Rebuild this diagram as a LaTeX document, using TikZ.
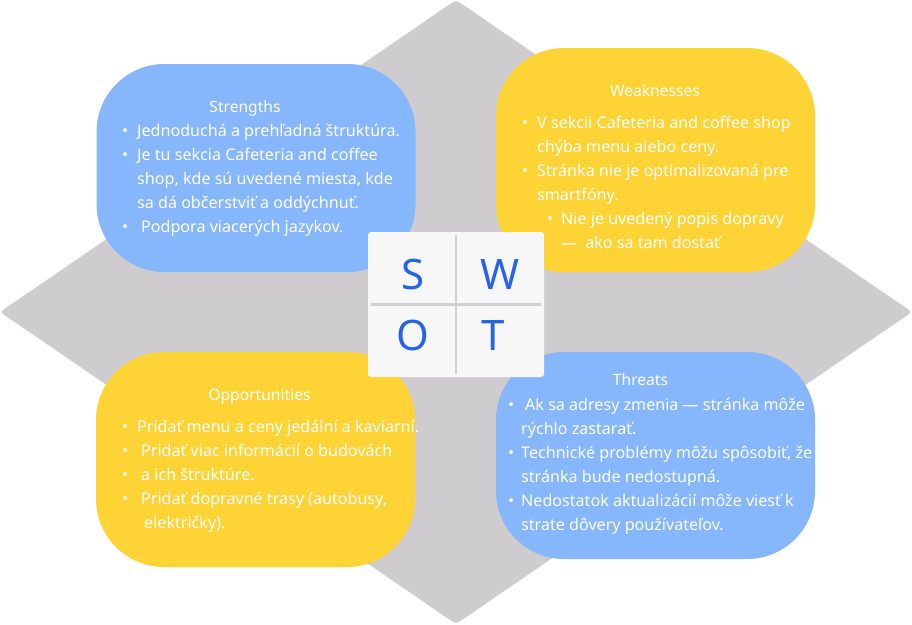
\documentclass[tikz,border=0pt]{standalone}
\usepackage{fontspec,xcolor}
\setmainfont{Noto Sans}
\definecolor{swgray}{RGB}{206,204,206}
\definecolor{swblue}{RGB}{134,182,252}
\definecolor{swyellow}{RGB}{253,211,53}
\definecolor{swletter}{RGB}{37,99,235}
\definecolor{swpaper}{RGB}{247,247,247}
\definecolor{swrule}{RGB}{208,208,208}
\usetikzlibrary{positioning}
\newcommand{\itm}[1][9pt]{\llap{\textbullet\hspace{#1}}}

\begin{document}
\begin{tikzpicture}[x=1pt,y=-1pt,
  box/.style={rounded corners=68pt,minimum width=319pt,inner sep=0pt},
  head/.style={anchor=base,inner sep=0pt,text=white,font=\fontsize{15.6}{18}\selectfont},
  body/.style={anchor=base west,inner sep=0pt,text=white,font=\fontsize{16.1}{24}\selectfont},
  letter/.style={anchor=base,inner sep=0pt,text=swletter,font=\fontsize{42}{42}\selectfont}]
  \useasboundingbox (0,0) rectangle (912,624);
  \fill[swgray,rounded corners=4pt] (456,0) -- (912,312) -- (456,624) -- (0,312) -- cycle;
  \node[box,fill=swblue,minimum height=208pt] (str) at (256,168) {};
  \node[box,fill=swyellow,minimum height=224pt] (weak) at (655.5,160) {};
  \node[box,fill=swyellow,minimum height=215pt] (opp) at (255.5,459.5) {};
  \node[box,fill=swblue,minimum height=207pt] (thr) at (655.5,455.5) {};
  \node[head] (strT) at (245,112.3) {Strengths};
  \node[head] (weakT) at (655,96) {Weaknesses};
  \node[head] (oppT) at (259.5,400) {Opportunities};
  \node[head] (thrT) at (640.5,385.7) {Threats};
  \foreach \t [count=\i] in {{\itm Jednoduchá a prehľadná štruktúra.},
      {\itm Je tu sekcia Cafeteria and coffee},{shop, kde sú uvedené miesta, kde},
      {sa dá občerstviť a oddýchnuť.},{\itm\hspace{4pt}Podpora viacerých jazykov.}}
    \node[body] (s\i) at (137,112.7+24*\i) {\t};
  \foreach \t [count=\i] in {{\itm V sekcii Cafeteria and coffee shop},{chýba menu alebo ceny.},
      {\itm Stránka nie je optimalizovaná pre},{smartfóny.}}
    \node[body] (w\i) at (537,104.3+24*\i) {\t};
  \node[body] (w5) at (561,224.3) {\itm[8pt]Nie je uvedený popis dopravy};
  \node[body] (w6) at (561,248.3) {—\hspace{8pt}ako sa tam dostať};
  \foreach \t [count=\i] in {{\itm Pridať menu a ceny jedální a kaviarní.},
      {\itm\hspace{4pt}Pridať viac informácií o budovách},{\itm\hspace{4pt}a ich štruktúre.},
      {\itm\hspace{4pt}Pridať dopravné trasy (autobusy,},{\hspace{7pt}električky).}}
    \node[body] (o\i) at (137,408.3+24*\i) {\t};
  \foreach \t [count=\i] in {{\itm[7pt]\hspace{4pt}Ak sa adresy zmenia — stránka môže},{rýchlo zastarať.},
      {\itm[7pt]Technické problémy môžu spôsobiť, že},{stránka bude nedostupná.},
      {\itm[7pt]Nedostatok aktualizácií môže viesť k},{strate dôvery používateľov.}}
    \node[body] (t\i) at (521,386+24*\i) {\t};
  \node[fill=swpaper,rounded corners=3pt,minimum width=176pt,minimum height=145pt] (grid) at (456,304.5) {};
  \draw[swrule,line width=2.5pt] ([yshift=-3pt]grid.north) -- ([yshift=3pt]grid.south);
  \draw[swrule,line width=2.5pt] ([xshift=3pt]grid.west) -- ([xshift=-3pt]grid.east);
  \node[letter] (S) at (413,289.3) {S};
  \node[letter] (W) at (500,289.3) {W};
  \node[letter] (O) at (413,350) {O};
  \node[letter] (T) at (493,350) {T};
\end{tikzpicture}
\end{document}
